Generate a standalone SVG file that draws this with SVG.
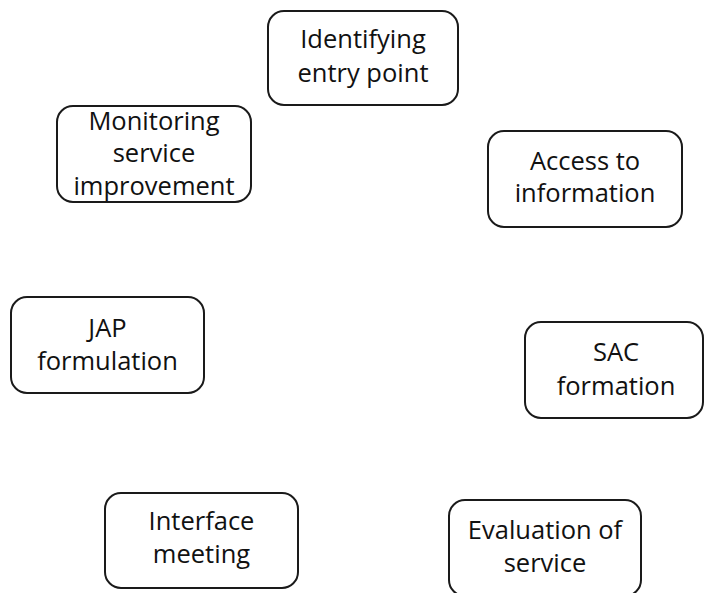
<svg xmlns="http://www.w3.org/2000/svg" width="705" height="593" viewBox="0 0 705 593">
<style>
.box{fill:#fff;stroke:#1a1a1a;stroke-width:2}
.t{font-family:"Open Sans","Noto Sans","Liberation Sans",sans-serif;font-size:25.5px;fill:#111;text-anchor:middle}
</style>
<rect width="705" height="593" fill="#fff"/>
<g id="connectors"></g>
<g id="n-identifying">
<rect class="box" x="268" y="11" width="190" height="94" rx="16"/>
<text class="t" x="363" y="48">Identifying</text>
<text class="t" x="363" y="82">entry point</text>
</g>
<g id="n-access">
<rect class="box" x="488" y="131" width="194" height="96" rx="16"/>
<text class="t" x="585" y="170">Access to</text>
<text class="t" x="585" y="202">information</text>
</g>
<g id="n-sac">
<rect class="box" x="525" y="322" width="178" height="96" rx="16"/>
<text class="t" x="616" y="361">SAC</text>
<text class="t" x="616" y="395">formation</text>
</g>
<g id="n-evaluation">
<rect class="box" x="449" y="500" width="192" height="96" rx="16"/>
<text class="t" x="545" y="539">Evaluation of</text>
<text class="t" x="545" y="572">service</text>
</g>
<g id="n-interface">
<rect class="box" x="105" y="493" width="193" height="95" rx="16"/>
<text class="t" x="201.5" y="530">Interface</text>
<text class="t" x="201.5" y="563">meeting</text>
</g>
<g id="n-jap">
<rect class="box" x="11" y="297" width="193" height="96" rx="16"/>
<text class="t" x="107.5" y="337">JAP</text>
<text class="t" x="107.5" y="370">formulation</text>
</g>
<g id="n-monitoring">
<rect class="box" x="57" y="106" width="194" height="96" rx="16"/>
<text class="t" x="154" y="130">Monitoring</text>
<text class="t" x="154" y="162">service</text>
<text class="t" x="154" y="195">improvement</text>
</g>
</svg>
